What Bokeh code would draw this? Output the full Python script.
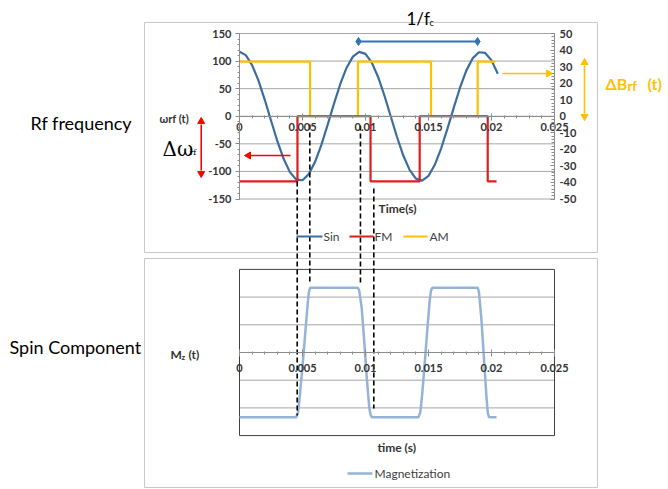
from bokeh.plotting import figure
from bokeh.models import Range1d, LinearAxis, FixedTicker, NumeralTickFormatter
from bokeh.core.properties import value
from bokeh.embed import file_html
from bokeh.resources import INLINE

# ---------------- data ----------------
sin_t = [0.0, 0.0005, 0.001, 0.0015, 0.002, 0.0025, 0.003, 0.0035, 0.004, 0.0045,
         0.005, 0.0055, 0.006, 0.0065, 0.007, 0.0075, 0.008, 0.0085, 0.009, 0.0095,
         0.010, 0.0105, 0.011, 0.0115, 0.012, 0.0125, 0.013, 0.0135, 0.014, 0.0145,
         0.015, 0.0155, 0.016, 0.0165, 0.017, 0.0175, 0.018, 0.0185, 0.019, 0.0195,
         0.020, 0.0205]
sin_v = [117, 110.8, 92.8, 65.0, 30.3, -7.7, -44.8, -77.1, -101.3, -114.8,
         -116.0, -104.9, -82.7, -51.7, -15.3, 22.8, 58.5, 88.0, 108.1, 116.7,
         113.0, 97.3, 71.2, 37.6, 0.0, -37.6, -71.2, -97.3, -113.0, -116.7,
         -108.1, -88.0, -58.5, -22.8, 15.3, 51.7, 82.7, 104.9, 116.0, 114.8,
         101.3, 77.1]

fm_t = [0.0, 0.0046, 0.0104, 0.0143, 0.0197, 0.0204]
fm_v = [-118, 0, -118, 0, -118, -118]

am_t = [0.0, 0.0056, 0.0094, 0.0152, 0.0189, 0.0203]
am_v = [33, 0, 33, 0, 33, 33]

mag_t = [0.0, 0.0045, 0.00465, 0.0048, 0.0050, 0.0052, 0.0054, 0.0055, 0.0056,
         0.0094, 0.0095, 0.0097, 0.0099, 0.0101, 0.0103, 0.0104, 0.0105,
         0.0142, 0.01435, 0.0145, 0.0147, 0.0149, 0.0151, 0.0152, 0.0153,
         0.0189, 0.0190, 0.0192, 0.0194, 0.0196, 0.0197, 0.0198, 0.0204]
mag_v = [-1.17, -1.17, -1.08, -0.75, -0.25, 0.3, 0.85, 1.08, 1.17,
         1.17, 1.12, 0.8, 0.2, -0.45, -1.0, -1.12, -1.17,
         -1.17, -1.08, -0.75, -0.2, 0.4, 0.95, 1.12, 1.17,
         1.17, 1.1, 0.6, -0.1, -0.8, -1.08, -1.17, -1.17]

guide_t = [0.00458, 0.00558, 0.0096, 0.01066]

left_ticks = [-150, -100, -50, 0, 50, 100, 150]
left_minor = list(range(-150, 151, 10))
right_ticks = [-50, -40, -30, -20, -10, 0, 10, 20, 30, 40, 50]
right_minor = list(range(-50, 51, 2))
time_ticks = [0, 0.005, 0.01, 0.015, 0.02, 0.025]
time_minor = [i / 1000 for i in range(0, 26)]
bot_grid = [-1.0, -0.5, 0.5, 1.0]

# ---------------- layout (page pixels) ----------------
W, H = 668, 489
PX0, PY0 = 0, 0
X0, X1 = 239, 554          # page x of t=0 and t=T_MAX
T_MAX = 0.025
ppt = (X1 - X0) / T_MAX
TOP_Y0, TOP_PPU = 115.75, 165.5 / 300.0
RIGHT_PPU = TOP_PPU * 3
BOT_Y0, BOT_PPU = 352.0, 55.4
M_LIM = 1.5


def yr(y0, ppu):
    return Range1d(start=(y0 - (PY0 + H)) / ppu, end=(y0 - PY0) / ppu)


p = figure(width=W, height=H,
           x_range=Range1d((PX0 - X0) / ppt, (PX0 + W - X0) / ppt),
           y_range=Range1d(start=PY0 + H, end=PY0),
           output_backend="svg", toolbar_location=None, min_border=0,
           x_axis_type=None, y_axis_type=None)
p.outline_line_color = None
p.background_fill_color = "white"
p.extra_x_ranges = {"px": Range1d(PX0, PX0 + W)}
p.extra_y_ranges = {"top": yr(TOP_Y0, TOP_PPU),
                    "right": yr(TOP_Y0, RIGHT_PPU),
                    "bot": yr(BOT_Y0, BOT_PPU)}

FONT = "Lato"
TICK_COLOR = "#333333"
AX_COLOR = "#8c8c8c"
GRID_COLOR = "#a6a6a6"


def txt(x, y, s, size, color="black", style="normal", font=FONT,
        align="left", baseline="middle"):
    p.text(x=[x], y=[y], text=[s], x_range_name="px",
           text_font=value(font), text_font_size=f"{size}px",
           text_font_style=style, text_color=color,
           text_align=align, text_baseline=baseline)


# outer boxes
p.quad(left=[144, 144], right=[597, 597], top=[22, 258], bottom=[252, 487],
       x_range_name="px", fill_alpha=0, line_color="#c8c8c8", line_width=1)

# ---------------- top chart ----------------
p.segment(x0=[0] * len(left_ticks), x1=[T_MAX] * len(left_ticks),
          y0=left_ticks, y1=left_ticks, y_range_name="top",
          line_color=GRID_COLOR, line_width=1)


def style_axis(ax):
    ax.axis_line_color = AX_COLOR
    ax.major_tick_line_color = AX_COLOR
    ax.minor_tick_line_color = AX_COLOR
    ax.major_label_text_font = FONT
    ax.major_label_text_font_size = "11px"
    ax.major_label_text_font_style = "bold"
    ax.major_label_text_color = TICK_COLOR


ax_l = LinearAxis(y_range_name="top", fixed_location=0, bounds=(-150, 150),
                  ticker=FixedTicker(ticks=left_ticks, minor_ticks=left_minor),
                  formatter=NumeralTickFormatter(format="0"))
style_axis(ax_l)
ax_l.major_tick_out, ax_l.major_tick_in = 4, 0
ax_l.minor_tick_out, ax_l.minor_tick_in = 2, 0
ax_l.major_label_standoff = 4
p.add_layout(ax_l, "left")

ax_r = LinearAxis(y_range_name="right", fixed_location=T_MAX, bounds=(-50, 50),
                  ticker=FixedTicker(ticks=right_ticks, minor_ticks=right_minor),
                  formatter=NumeralTickFormatter(format="0"))
style_axis(ax_r)
ax_r.major_tick_out, ax_r.major_tick_in = 0, 4
ax_r.minor_tick_out, ax_r.minor_tick_in = 0, 3
ax_r.major_label_standoff = 5
p.add_layout(ax_r, "right")

ax_t = LinearAxis(y_range_name="top", fixed_location=0, bounds=(0, T_MAX),
                  ticker=FixedTicker(ticks=time_ticks, minor_ticks=time_minor),
                  formatter=NumeralTickFormatter(format="0.[000]"))
style_axis(ax_t)
ax_t.major_tick_out, ax_t.major_tick_in = 4, 3
ax_t.minor_tick_out, ax_t.minor_tick_in = 2, 1
ax_t.major_label_standoff = 3
p.add_layout(ax_t, "below")

p.line(sin_t, sin_v, y_range_name="top", line_color="#3d6d9e", line_width=2.2)
p.step(am_t, am_v, mode="after", y_range_name="right", line_color="#ffc000", line_width=2.2)
p.step(fm_t, fm_v, mode="after", y_range_name="top", line_color="#dc1e1e", line_width=2.2)

# ---------------- bottom chart ----------------
p.segment(x0=[0] * len(bot_grid), x1=[T_MAX] * len(bot_grid),
          y0=bot_grid, y1=bot_grid, y_range_name="bot",
          line_color=GRID_COLOR, line_width=1)
p.quad(left=[0], right=[T_MAX], bottom=[-M_LIM], top=[M_LIM], y_range_name="bot",
       fill_alpha=0, line_color="#404040", line_width=1)

ax_b = LinearAxis(y_range_name="bot", fixed_location=0, bounds=(0, T_MAX),
                  ticker=FixedTicker(ticks=time_ticks, minor_ticks=time_minor),
                  formatter=NumeralTickFormatter(format="0.[000]"))
style_axis(ax_b)
ax_b.major_tick_out, ax_b.major_tick_in = 4, 3
ax_b.minor_tick_out, ax_b.minor_tick_in = 2, 1
ax_b.major_label_standoff = 7
p.add_layout(ax_b, "below")

p.line(mag_t, mag_v, y_range_name="bot", line_color="#95b3d7", line_width=2.5)

# ---------------- dashed guides (page y) ----------------
p.segment(x0=guide_t, x1=guide_t, y0=[181, 124, 125, 188], y1=[415, 283, 283, 408],
          line_color="black", line_width=1.6, line_dash="5 3")

# ---------------- arrows ----------------
# blue 1/fc arrow
p.segment(x0=[358], x1=[477], y0=[41], y1=[41], x_range_name="px",
          line_color="#2f75b5", line_width=2)
p.scatter(x=[358, 477], y=[41, 41], x_range_name="px", marker="diamond",
          size=8, color="#2f75b5")
# red arrows
RED = "#ff0000"
p.segment(x0=[290, 200.7], x1=[250, 200.7], y0=[155, 124], y1=[155, 170],
          x_range_name="px", line_color=RED, line_width=1.6)
p.scatter(x=[248, 200.7, 200.7], y=[155, 121, 173], x_range_name="px",
          marker="triangle", size=7, angle=[1.5708, 0, 3.1416], color=RED)
# yellow arrows
YEL = "#ffc000"
p.segment(x0=[502, 584], x1=[546, 584], y0=[73, 65], y1=[73, 113],
          x_range_name="px", line_color=YEL, line_width=1.6)
p.scatter(x=[548, 584, 584], y=[73, 62, 116], x_range_name="px",
          marker="triangle", size=7, angle=[-1.5708, 0, 3.1416], color=YEL)

# ---------------- texts ----------------
txt(406, 18, "1/f", 17)
txt(429, 22, "c", 9)
txt(30, 122, "Rf frequency", 18)
txt(9, 346, "Spin Component", 18)
txt(159, 118, "\u03c9rf (t)", 11, color=TICK_COLOR, style="bold")
txt(162, 148, "\u0394\u03c9", 20, font="DejaVu Serif")
txt(189, 152, "rf", 8, font="DejaVu Serif")
txt(605, 83, "\u0394B", 16, color=YEL, style="bold")
txt(627, 85, "rf", 13, color=YEL, style="bold")
txt(647, 83, "(t)", 16, color=YEL, style="bold")
txt(378, 208, "Time(s)", 12, color=TICK_COLOR, style="bold")
txt(377, 447, "time (s)", 12, color=TICK_COLOR, style="bold")
txt(170, 354, "M", 12, color=TICK_COLOR, style="bold")
txt(181, 356, "z", 8, color=TICK_COLOR, style="bold")
txt(188, 354, "(t)", 12, color=TICK_COLOR, style="bold")

# legends
p.segment(x0=[296, 349, 403], x1=[322, 373, 427], y0=[236] * 3, y1=[236] * 3,
          x_range_name="px", line_color=["#3d6d9e", "#dc1e1e", "#ffc000"], line_width=2.2)
txt(323, 236, "Sin", 12, color="#404040")
txt(374, 236, "FM", 12, color="#404040")
txt(429, 236, "AM", 12, color="#404040")
p.segment(x0=[347], x1=[372], y0=[473], y1=[473], x_range_name="px",
          line_color="#95b3d7", line_width=2.5)
txt(374, 473, "Magnetization", 12, color="#404040")

open("out.html", "w").write(file_html(p, INLINE))
